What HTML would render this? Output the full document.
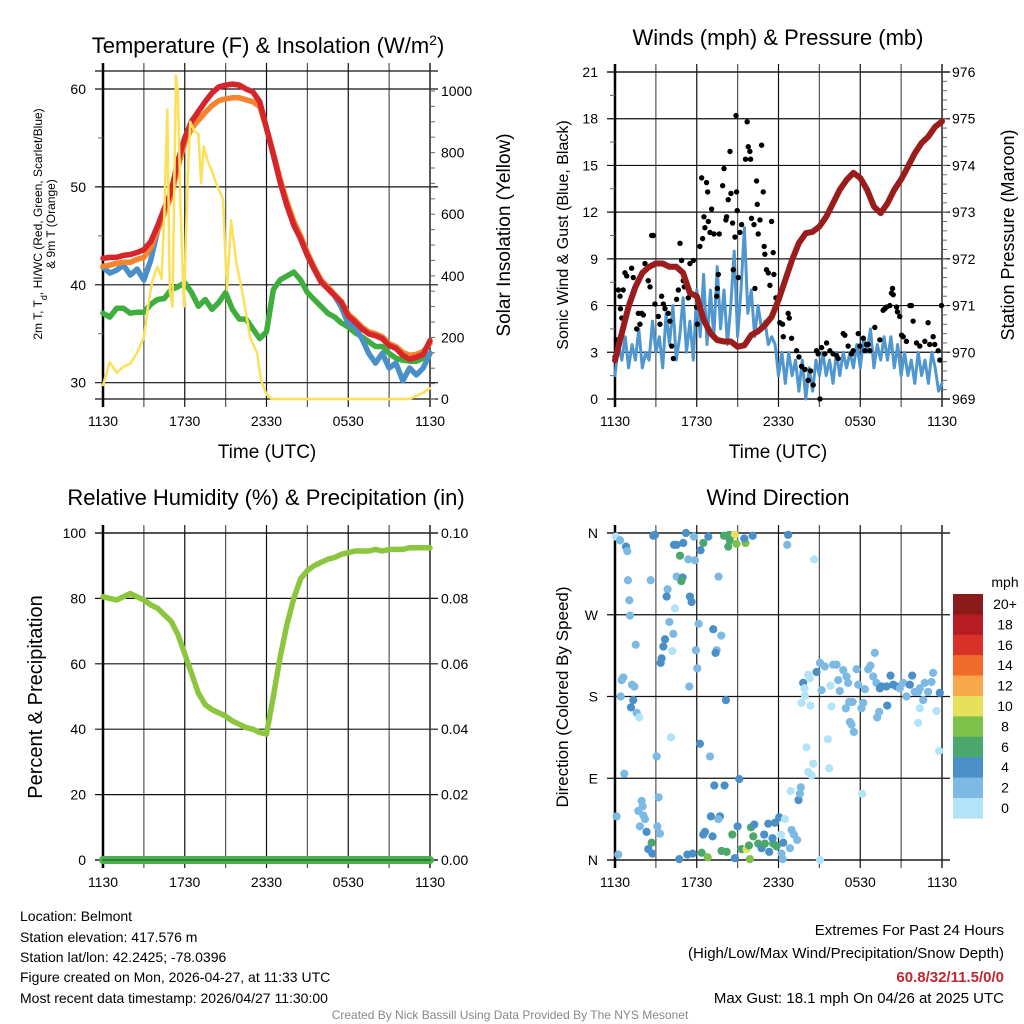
<!DOCTYPE html>
<html><head><meta charset="utf-8">
<style>
html,body{margin:0;padding:0;background:#fff;}
svg{display:block;font-family:"Liberation Sans",Arial,sans-serif;}
</style></head>
<body>
<svg id="chart" width="1024" height="1024" viewBox="0 0 1024 1024" xmlns="http://www.w3.org/2000/svg">
<rect x="0" y="0" width="1024" height="1024" fill="#fff"/>
<text x="268" y="53" font-size="22" text-anchor="middle">Temperature (F) &amp; Insolation (W/m<tspan baseline-shift="super" font-size="14">2</tspan>)</text>
<text x="778" y="45" font-size="22" text-anchor="middle">Winds (mph) &amp; Pressure (mb)</text>
<text x="266" y="505" font-size="22" text-anchor="middle">Relative Humidity (%) &amp; Precipitation (in)</text>
<text x="778" y="505" font-size="22" text-anchor="middle">Wind Direction</text>

<text transform="translate(42,224) rotate(-90)" font-size="12" text-anchor="middle">2m T, T<tspan baseline-shift="sub" font-size="9">d</tspan>, HI/WC (Red, Green, Scarlet/Blue)</text>
<text transform="translate(55,224) rotate(-90)" font-size="12" text-anchor="middle">&amp; 9m T (Orange)</text>
<text transform="translate(510,235) rotate(-90)" font-size="19" text-anchor="middle">Solar Insolation (Yellow)</text>
<text x="267" y="458" font-size="19" text-anchor="middle">Time (UTC)</text>
<text x="778" y="458" font-size="19" text-anchor="middle">Time (UTC)</text>
<text transform="translate(568,235) rotate(-90)" font-size="16" text-anchor="middle">Sonic Wind &amp; Gust (Blue, Black)</text>
<text transform="translate(1014,235) rotate(-90)" font-size="18" text-anchor="middle">Station Pressure (Maroon)</text>
<text transform="translate(42,697) rotate(-90)" font-size="20" text-anchor="middle">Percent &amp; Precipitation</text>
<text transform="translate(568,697) rotate(-90)" font-size="17" text-anchor="middle">Direction (Colored By Speed)</text>

<g id="p1"></g>
<g id="p2"></g>
<g id="p3"></g>
<g id="p4"></g>
<g id="cb"></g>

<g font-size="14">
<text x="20" y="921">Location: Belmont</text>
<text x="20" y="942">Station elevation: 417.576 m</text>
<text x="20" y="962">Station lat/lon: 42.2425; -78.0396</text>
<text x="20" y="982">Figure created on Mon, 2026-04-27, at 11:33 UTC</text>
<text x="20" y="1003">Most recent data timestamp: 2026/04/27 11:30:00</text>
</g>
<g font-size="15" text-anchor="end">
<text x="1004" y="935">Extremes For Past 24 Hours</text>
<text x="1004" y="958">(High/Low/Max Wind/Precipitation/Snow Depth)</text>
<text x="1004" y="982" fill="#c1272d" font-weight="bold">60.8/32/11.5/0/0</text>
<text x="1004" y="1003">Max Gust: 18.1 mph On 04/26 at 2025 UTC</text>
</g>
<text x="510" y="1019" font-size="12" fill="#888" text-anchor="middle">Created By Nick Bassill Using Data Provided By The NYS Mesonet</text>
</svg>
<script>
const tempHours = Array.from({length:49},(_, i)=>i*0.5);
const temp2m = [42.7,42.8,42.8,43.0,43.1,43.3,43.6,44.4,46,47.8,49.5,52.6,55,56.7,57.7,58.7,59.6,60.2,60.4,60.5,60.4,60,59.7,58.7,56,53.3,50.5,48.1,46.1,44.7,43,41.6,40.3,39.6,38.9,38.2,36.8,36.2,35.5,35,34.8,34.5,33.8,33.5,32.8,32.4,32.6,32.9,34.3];
const temp9m = [41.9,42,42.2,42.3,42.3,42.6,42.8,43.8,45.5,47.3,49,52,54.5,56,56.8,57.6,58.3,58.8,59,59.1,59.1,58.9,58.7,58.2,56,53.5,50.8,48.5,46.5,45,43.3,41.8,40.5,39.8,39,38.3,37,36.4,35.7,35.2,35,34.7,34,33.7,33.1,32.8,32.9,33.2,34];
const windChill = [41.8,41.2,41.5,42.0,41.0,41.6,40.5,42.5,45.5,47.5,49.5,52.6,55,56.7,57.7,58.7,59.6,60.2,60.4,60.5,60.4,60,59.7,58.7,56,53.3,50.5,48.1,46.1,44.7,43,41.6,40.3,39.6,38.9,37.7,36,35.7,34.5,33,32,33,31.5,32,30.2,31.5,30.8,31.5,33];
const dewPoint = [37.1,36.7,37.6,37.6,37.1,37.2,37.2,38,38.5,38.6,39.5,39.8,40.2,39.2,37.8,38.5,37.5,38.2,39.2,37.5,36.5,36.5,35.5,34.5,35.2,39.5,40.5,40.9,41.3,40.5,39.2,38.5,37.8,37.1,36.7,36.1,35.7,35.1,34.7,34.2,33.7,33.7,33,32.5,32.3,32.2,32.2,32.5,33];
const solarHours = [0,0.5,1,1.5,2,2.5,3,3.3,3.6,3.9,4.0,4.3,4.5,4.72,4.9,5.1,5.35,5.5,5.7,5.94,6.2,6.4,6.7,7.0,7.2,7.4,7.7,8.0,8.3,8.8,9.1,9.4,9.8,10.3,10.8,11.3,11.6,12.0,12.4,22.5,23,23.5,24];
const solarVals = [45,120,85,105,115,150,200,300,380,420,430,390,600,940,350,300,1050,1000,600,300,700,900,870,860,700,820,770,740,700,650,354,580,440,330,200,150,60,15,0,0,10,20,35];
const pressure = [969.83,970.41,970.98,971.4,971.7,971.83,971.9,971.9,971.83,971.83,971.7,971.27,971.2,970.7,970.41,970.26,970.23,970.23,970.12,970.15,970.37,970.45,970.58,970.76,971.12,971.55,971.98,972.34,972.55,972.58,972.69,972.9,973.19,973.48,973.69,973.84,973.73,973.48,973.12,972.98,973.19,973.48,973.7,973.97,974.26,974.48,974.62,974.83,974.94];
const rh = [80.5,80,79.5,80.5,81.5,80.5,79.5,78,77,75,73,69,63,57,51,47.5,46,45,44,42.5,41.5,40.5,40,39,38.5,50,62,72,80,86,88.5,90,91,92,92.5,93.5,94,94.5,94.5,94.5,95,94.5,95,95,95,95.5,95.5,95.5,95.5];
const precip = [0,0,0,0,0,0,0,0,0,0,0,0,0,0,0,0,0,0,0,0,0,0,0,0,0,0,0,0,0,0,0,0,0,0,0,0,0,0,0,0,0,0,0,0,0,0,0,0,0];
const windHours = Array.from({length:97},(_, i)=>i*0.25);
const windSpeed = [1.5,3.5,2.5,4,2,3.5,2.5,4.5,2,3,2.5,5,3, 4,2,5.5,3.5,6,2.5,4,6.5,3,5,2.5,7, 4,8,3.5,7,4,8.5,4.5,7,3.5,6,9.5,4,7,11,5.5,7,4,6,4.5,5,3.5,4,3.5,1.5, 3,1,3,1.5,2.5,0.5,2.5,0,2,0.5,2.5,1.5,3,1.5,2.5,1,3,1.5,3,2,3,2,3.5,2,4,3,4.5,2,3.5,2.5,4,2.5,4,2,3.5,1.5,3,1.5,2.5,1,3,1.5,2.5,1,3,2,0.5,1];
const gustHours = [0,0.1,0.25,0.6,0.37,0.5,0.4,0.73,0.86,1.22,1.34,1.27,1.71,1.83,1.59,1.96,2.08,2.2,2.44,2.57,2.69,2.81,2.93,3.18,3.3,3.42,3.55,3.67,3.91,4.03,4.16,4.28,4.52,4.65,4.77,4.89,5.01,5.09,5.38,5.5,5.75,5.99,6.04,6.23,6.36,6.43,6.53,6.6,6.72,6.8,6.85,6.97,7.09,7.26,7.46,7.51,7.58,7.65,7.9,8.0,8.14,8.19,8.31,8.44,8.51,8.63,8.68,8.8,8.88,8.92,8.97,9.05,9.17,9.29,9.58,9.7,9.78,9.9,9.95,10.02,10.2,10.27,10.39,10.44,10.51,10.64,10.76,10.88,10.95,11.0,11.12,11.25,11.37,11.49,11.61,11.66,11.81,12.1,12.3,12.35,12.71,12.79,12.96,13.33,13.5,13.69,13.94,14.18,14.35,14.55,14.79,14.91,15.04,15.16,15.4,15.53,15.77,16.01,16.26,16.38,16.75,16.87,17.11,17.36,17.48,17.85,17.97,18.22,18.34,18.46,18.58,18.7,19.07,19.44,19.68,19.8,19.93,20.17,20.29,20.37,20.42,20.66,20.73,20.9,21.03,21.15,21.39,21.64,21.76,21.88,22.13,22.37,22.74,22.98,23.1,23.35,23.47,23.72,23.96,23.84];
const gustVals = [2.7,3.8,7.0,7.0,6.6,5.2,5.8,8.1,7.9,8.4,7.8,6.6,5.5,4.8,4.5,5.5,5.4,8.7,7.6,7.2,10.5,10.5,6.1,5.3,4.8,6.6,6.1,5.8,5.5,5.0,3.4,2.6,6.4,7.0,10.0,8.9,7.6,7.2,6.5,8.7,8.9,5.9,4.8,9.8,14.2,10.3,11.7,11.0,13.9,13.3,11.4,10.7,12.2,10.6,6.6,7.1,8.0,10.6,13.7,14.8,11.5,11.7,12.8,15.9,13.2,11.3,8.3,10.4,18.2,13.3,12.1,7.8,10.7,11.2,15.4,17.8,16.2,15.9,15.4,11.6,11.2,7.1,14.0,12.5,10.6,11.5,16.3,13.3,9.8,9.3,8.3,8.1,7.3,11.4,9.4,8.0,6.5,4.9,4.8,4.0,5.5,5.2,3.9,3.1,2.7,2.1,1.9,1.2,1.8,0.9,3.1,2.9,0,3.3,2.9,3.6,3.1,2.9,2.8,2.6,4.2,4.1,3.4,2.9,3.1,4.2,3.4,3.9,3.1,3.5,3.5,3.1,4.6,3.8,5.7,5.8,5.9,6.0,6.8,7.1,6.7,5.9,5.6,5.3,4.1,4.0,3.7,6.0,6.0,5.0,3.6,3.4,3.7,4.9,3.5,4.0,3.5,3.1,6.0,2.5];
const dirHours = [0.05,0.37,0.81,0.9,2.93,2.81,5.21,5.79,6.85,8.0,8.39,8.8,8.43,8.92,9.58,9.49,10.1,8.31,6.48,6.28,4.52,5.01,4.33,4.77,5.38,5.87,12.71,12.64,14.62,0.95,2.62,4.52,4.96,4.87,3.86,3.79,5.5,5.62,4.4,1.05,1.1,7.6,3.99,4.28,6.14,7.21,7.8,3.67,3.55,1.52,4.21,5.94,7.46,7.38,3.42,3.35,6.04,0.61,0.49,1.25,1.42,5.45,0.42,1.34,1.17,8.14,1.59,1.78,4.11,6.23,3.06,6.97,0.68,9.12,7.29,8.04,3.2,1.96,2.03,1.71,2.08,2.2,0.12,1.83,2.32,3.3,3.11,2.69,2.44,2.74,0.24,4.72,5.31,5.7,6.36,6.8,6.6,6.48,7.16,7.04,7.7,7.58,8.61,9.0,7.82,8.19,8.8,9.29,9.66,9.9,9.83,9.98,10.22,10.15,10.51,10.76,11.0,10.95,11.25,11.32,11.61,11.56,11.74,12.05,11.86,12.35,12.47,12.22,12.3,12.18,12.84,12.96,13.13,13.37,13.47,13.57,13.64,12.89,15.04,18.14,13.81,13.91,14.18,14.3,13.69,14.35,13.94,14.79,15.04,15.4,15.16,15.82,16.01,16.26,16.38,16.5,16.75,16.99,17.11,17.19,17.43,16.94,17.24,17.36,17.53,15.89,15.62,14.06,14.55,14.18,15.72,14.43,17.73,17.85,18.09,18.22,18.34,18.58,18.75,18.95,19.07,19.19,19.44,19.56,19.39,19.24,19.98,19.93,20.22,20.42,20.66,20.9,21.15,21.39,21.64,21.81,22.0,22.25,22.37,22.25,22.74,22.98,23.23,23.35,23.59,23.84,23.79,22.62,22.37];
const dirDegs = [356,352,345,340,358,357,360,356,356,357,358,358,352,348,349,354,357,345,349,341,347,349,347,335,331,330,358,347,331,308,308,312,311,307,298,290,290,284,277,286,269,312,262,249,260,254,247,243,235,237,230,231,231,228,222,217,211,201,198,193,191,191,180,176,168,176,162,157,135,128,114,114,95,89,82,82,69,65,59,54,49,45,48,37,31,29,37,19,12,7,6,1,6,7,8,3,31,28,26,48,48,45,28,37,10,9,2,12,12,1,16,36,39,26,18,13,18,28,40,9,18,24,41,47,15,19,45,7,1,28,13,33,28,22,66,73,80,76,0,73,195,189,204,200,173,170,181,207,217,213,187,192,215,215,198,186,209,202,195,174,174,167,152,149,141,169,133,124,106,97,101,93,210,193,167,173,188,210,214,202,228,195,189,191,163,157,170,191,203,193,191,189,195,180,193,203,185,185,167,151,195,185,196,206,164,184,120,176,189];
const dirSpeeds = [1,3,5,3,5,5,5,3,5,7,7,11,7,9,9,5,5,7,7,5,5,5,5,7,3,3,5,3,1,3,3,3,5,7,3,5,5,5,1,3,3,3,3,3,3,5,3,5,5,3,1,3,3,5,5,5,3,3,3,3,3,3,3,5,5,5,3,1,1,5,3,3,3,5,5,5,3,3,3,3,3,3,3,3,5,3,3,7,5,5,3,5,5,5,7,9,5,5,5,5,5,3,7,5,7,7,5,7,11,9,7,7,5,7,7,5,7,5,5,5,7,5,5,5,7,5,1,3,3,1,3,3,3,3,5,3,3,1,1,1,5,1,1,1,1,1,1,5,3,3,3,1,3,3,3,3,3,3,3,3,3,3,3,3,3,1,1,1,1,1,1,1,3,3,3,3,3,3,3,3,3,3,5,5,3,3,5,5,5,5,5,3,3,3,5,5,3,3,1,1,3,3,3,3,1,5,1,3,3];
const timeTicks = ["1130","1730","2330","0530","1130"];
const tempTicks = [30,40,50,60];
const solarTicks = [0,200,400,600,800,1000];
const windTicks = [0,3,6,9,12,15,18,21];
const pressTicks = [969,970,971,972,973,974,975,976];
const rhTicks = [0,20,40,60,80,100];
const precipTicks = ["0.00","0.02","0.04","0.06","0.08","0.10"];
const dirTicks = ["N","E","S","W","N"];
const speedLabels = ["0","2","4","6","8","10","12","14","16","18","20+"];
const speedColors = ["#b3e3f7","#7cb9e3","#4a8fc7","#4aa86c","#7cc24a","#e6e05a","#f7a84a","#f06a2a","#d93027","#b81c23","#8b1a1a"];

const NS="http://www.w3.org/2000/svg";
function mk(parent, tag, attrs){const e=document.createElementNS(NS,tag);for(const k in attrs)e.setAttribute(k,attrs[k]);parent.appendChild(e);return e;}
function txt(parent, x, y, s, size, anchor){const t=mk(parent,'text',{x:x,y:y,'font-size':size,'text-anchor':anchor});t.textContent=s;return t;}

const P1={x0:103,x1:430,y0:71,y1:399,el:document.getElementById('p1')};
const P2={x0:615,x1:942,y0:72,y1:399,el:document.getElementById('p2')};
const P3={x0:103,x1:430,y0:533,y1:860,el:document.getElementById('p3')};
const P4={x0:615,x1:942,y0:533,y1:860,el:document.getElementById('p4')};
function xs(P,h){return P.x0+h/24*(P.x1-P.x0);}
function lin(d0,d1,r0,r1){return v=>r0+(v-d0)/(d1-d0)*(r1-r0);}
const yTemp=lin(60,30,89,382.7), ySolar=lin(0,1000,399,91);
const yWind=lin(0,21,399,72), yPress=lin(969,976,399,72);
const yRh=lin(0,100,860,533), yPrecip=lin(0,0.1,860,533);
const yDir=lin(0,360,860,533);

function frame(P, hTicksY){
  const g=P.el;
  for(let i=0;i<=8;i++){
    const x=xs(P,i*3);
    const l=mk(g,'line',{x1:x,y1:P.y0-8,x2:x,y2:P.y1+8,stroke:(i%2? '#555':'#111'),'stroke-width':1.2});
    
    
  }
  hTicksY.forEach(y=>{
    const l=mk(g,'line',{x1:P.x0-8,y1:y,x2:P.x1+8,y2:y,stroke:'#111','stroke-width':1.2});
    
    
  });
  mk(g,'line',{x1:P.x0-8,y1:P.y0,x2:P.x1+8,y2:P.y0,stroke:'#111','stroke-width':1.2});
  mk(g,'line',{x1:P.x0-8,y1:P.y1,x2:P.x1+8,y2:P.y1,stroke:'#111','stroke-width':1.2});
  mk(g,'line',{x1:P.x0,y1:P.y0-8,x2:P.x0,y2:P.y1+8,stroke:'#000','stroke-width':2.5});
  mk(g,'line',{x1:P.x1,y1:P.y0-8,x2:P.x1,y2:P.y1+8,stroke:'#333','stroke-width':1.5});
  timeTicks.forEach((s,i)=>{
    const t=txt(g,xs(P,i*6),P.y1+27,s,14,'middle');
    
    
  });
}
function minor(P, side, ys){
  ys.forEach(y=>{
    if(side==='l') mk(P.el,'line',{x1:P.x0-5,y1:y,x2:P.x0,y2:y,stroke:'#666','stroke-width':1});
    else mk(P.el,'line',{x1:P.x1,y1:y,x2:P.x1+5,y2:y,stroke:'#666','stroke-width':1});
  });
}
function path(P, hs, vs, yf, color, w, name){
  let d='';const n=Math.min(hs.length,vs.length);
  for(let i=0;i<n;i++){if(vs[i]==null)continue;d+=(d?'L':'M')+xs(P,hs[i]).toFixed(1)+','+yf(vs[i]).toFixed(1);}
  const p=mk(P.el,'path',{d:d,fill:'none',stroke:color,'stroke-width':w,'stroke-linejoin':'round','stroke-linecap':'round'});
  
  
  return p;
}

frame(P1, tempTicks.map(yTemp));
minor(P1,'l',[35,45,55].map(yTemp));
minor(P1,'r',[50,100,150,250,300,350,450,500,550,650,700,750,850,900,950].map(ySolar).concat(solarTicks.map(ySolar)));
tempTicks.forEach(v=>{const t=txt(P1.el,86,yTemp(v)+5,String(v),14,'end');});
solarTicks.forEach(v=>{const t=txt(P1.el,441,ySolar(v)+5,String(v),14,'start');});
path(P1,tempHours,dewPoint,yTemp,'#3fae3f',5.5,'dewpoint-line');
path(P1,tempHours,windChill,yTemp,'#4a8fc7',5.5,'windchill-line');
path(P1,tempHours,temp9m,yTemp,'#f5842f',5.5,'temp-9m-line');
path(P1,tempHours,temp2m,yTemp,'#d7262b',5.5,'temp-2m-line');
path(P1,solarHours,solarVals,ySolar,'#fbe05a',2.5,'solar-line');

frame(P2, windTicks.map(yWind));
minor(P2,'l',[1.5,4.5,7.5,10.5,13.5,16.5,19.5].map(yWind));
const pm=[];for(let p=969.2;p<976;p+=0.2)pm.push(yPress(p));minor(P2,'r',pm);
windTicks.forEach(v=>{const t=txt(P2.el,598,yWind(v)+5,String(v),14,'end');});
pressTicks.forEach(v=>{const t=txt(P2.el,952,yPress(v)+5,String(v),14,'start');});
path(P2,windHours,windSpeed,yWind,'#5096cf',3,'sonic-wind-line');
const ng=Math.min(gustHours.length,gustVals.length);
for(let i=0;i<ng;i++){
  const c=mk(P2.el,'circle',{cx:xs(P2,gustHours[i]),cy:yWind(gustVals[i]),r:2.7,fill:'#000'});
  
  
}
path(P2,tempHours,pressure,yPress,'#9b1c1c',6,'pressure-line');

frame(P3, rhTicks.map(yRh));
rhTicks.forEach(v=>{const t=txt(P3.el,86,yRh(v)+5,String(v),14,'end');});
precipTicks.forEach((s,i)=>{const t=txt(P3.el,441,yPrecip(parseFloat(s))+5,s,14,'start');});
path(P3,tempHours,rh,yRh,'#8cc63f',5.5,'humidity-line');
path(P3,tempHours,precip,yPrecip,'#4cae4c',8,'precip-line');
path(P3,tempHours,precip,yPrecip,'#2e7d32',2,'precip-line-core');

frame(P4, [0,90,180,270,360].map(yDir));
dirTicks.forEach((s,i)=>{const t=txt(P4.el,598,yDir(i*90)+5,s,14,'end');});
const nd=Math.min(dirHours.length,dirDegs.length,dirSpeeds.length);
for(let i=0;i<nd;i++){
  const bin=Math.min(10,Math.floor(dirSpeeds[i]/2));
  const c=mk(P4.el,'circle',{cx:xs(P4,dirHours[i]),cy:yDir(dirDegs[i]),r:4.1,fill:speedColors[bin]});
  
  
}

const cb=document.getElementById('cb');
const mt=txt(cb,1005,587,'mph',14,'middle');


for(let i=0;i<11;i++){
  const k=10-i, y=594+i*20.4;
  const r=mk(cb,'rect',{x:953,y:y,width:30,height:20.6,fill:speedColors[k]});
  
  
  const t=txt(cb,1005,y+15,speedLabels[k],14,'middle');
  
  
}
</script>
</body></html>
